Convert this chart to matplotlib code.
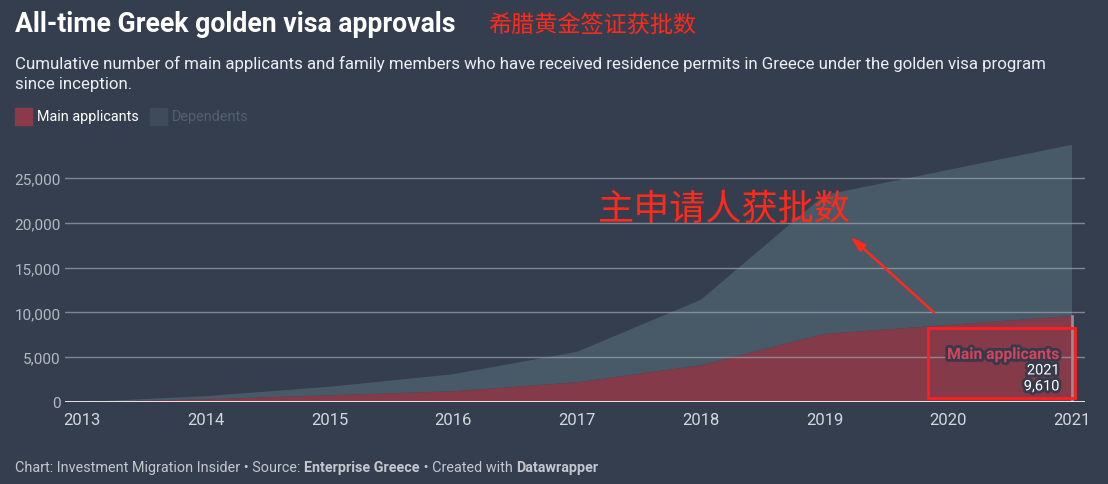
import matplotlib.pyplot as plt
import matplotlib.patheffects as pe
from matplotlib.patches import Rectangle
import numpy as np

plt.rcParams['font.family'] = ['Roboto', 'Noto Sans CJK SC', 'DejaVu Sans']

# data (cumulative)
years = [2013, 2014, 2015, 2016, 2017, 2018, 2019, 2020, 2021]
main_applicants = [0, 300, 750, 1200, 2200, 4100, 7600, 8600, 9610]
dependents = [0, 350, 950, 1900, 3400, 7300, 15500, 17300, 19100]
y_ticks = [0, 5000, 10000, 15000, 20000, 25000]

bg = '#343e4e'
red_area = '#843a48'
dep_area = '#485a68'

fig = plt.figure(figsize=(11.08, 4.85), dpi=100, facecolor=bg)
ax = fig.add_axes([65 / 1108, 82 / 485, 1020 / 1108, 268.8 / 485])
ax.set_facecolor(bg)

ax.stackplot(years, main_applicants, dependents, colors=[red_area, dep_area], linewidth=0, zorder=2)
ax.set_xlim(2012.863, 2021.105)
ax.set_ylim(0, 30000)

# grid
for t in y_ticks[1:]:
    ax.axhline(t, color='#9aa1aa', lw=1, alpha=0.75, zorder=3)
ax.axhline(0, color='white', lw=1.2, zorder=4)

# hover line at last point
ax.plot([2021, 2021], [0, main_applicants[-1]], color='#9a8a92', lw=2, zorder=3)

ax.set_yticks(y_ticks)
ax.set_yticklabels([f'{t:,}' for t in y_ticks])
ax.set_xticks(years)
ax.set_xticklabels([str(y) for y in years])
ax.tick_params(axis='y', length=0, pad=3, labelsize=11, labelcolor='#b4bac2')
ax.tick_params(axis='x', length=0, pad=7, labelsize=12, labelcolor='#d4d8de')
for s in ax.spines.values():
    s.set_visible(False)

# direct label
stroke = [pe.withStroke(linewidth=4, foreground='#363a4a')]
ax.text(2020.9, 5300, 'Main applicants', color='#d8435c', fontsize=11.3, fontweight='bold',
        ha='right', va='center', path_effects=stroke, zorder=6)
ax.text(2020.9, 3520, '2021', color='white', fontsize=10.5, ha='right', va='center',
        path_effects=stroke, zorder=6)
ax.text(2020.9, 1740, f'{main_applicants[-1]:,}', color='white', fontsize=10.5, ha='right',
        va='center', path_effects=stroke, zorder=6)

# red annotation
ax.add_patch(Rectangle((2019.835, 450), 1.19, 7830, fill=False, edgecolor='#ff1f1f',
                       lw=2, zorder=7, clip_on=False))
ax.annotate('', xy=(2019.19, 18700), xytext=(2019.9, 9800),
            arrowprops=dict(arrowstyle='-|>,head_length=0.9,head_width=0.25',
                            color='#ff2a1a', lw=1.8), zorder=7)
ax.text(2017.17, 21600, '主申请人获批数', color='#ff2a1a', fontsize=26,
        family=['Noto Sans CJK SC', 'DejaVu Sans'], ha='left', va='center', zorder=7)

# header
fig.text(15 / 1108, 1 - 25 / 485, 'All-time Greek golden visa approvals', color='white',
         fontsize=19.2, fontweight='bold', va='center', ha='left')
fig.text(488 / 1108, 1 - 25 / 485, '希腊黄金签证获批数', color='#ff2a1a', fontsize=16.7,
         family=['Noto Sans CJK SC', 'DejaVu Sans'], va='center', ha='left')
fig.text(15 / 1108, 1 - 64 / 485,
         'Cumulative number of main applicants and family members who have received residence permits in Greece under the golden visa program',
         color='#eceef1', fontsize=12.2, va='center', ha='left')
fig.text(15 / 1108, 1 - 84 / 485, 'since inception.', color='#eceef1', fontsize=12.2,
         va='center', ha='left')

# legend
fig.patches.append(Rectangle((15 / 1108, 1 - 126 / 485), 17 / 1108, 17 / 485,
                             transform=fig.transFigure, color='#8b3a4a'))
fig.text(37 / 1108, 1 - 117 / 485, 'Main applicants', color='white', fontsize=10.4,
         va='center', ha='left')
fig.patches.append(Rectangle((150 / 1108, 1 - 126 / 485), 17 / 1108, 17 / 485,
                             transform=fig.transFigure, color='#3f4a5a'))
fig.text(172 / 1108, 1 - 117 / 485, 'Dependents', color='#55606f', fontsize=10.4,
         va='center', ha='left')

# footer
parts = [('Chart: Investment Migration Insider • Source: ', 'normal'),
         ('Enterprise Greece', 'bold'),
         (' • Created with ', 'normal'),
         ('Datawrapper', 'bold')]
x = 15 / 1108
r = fig.canvas.get_renderer()
for txt, w in parts:
    t = fig.text(x, 1 - 468 / 485, txt, color='#c4c8ce', fontsize=10.4, fontweight=w,
                 va='center', ha='left')
    bb = t.get_window_extent(renderer=r)
    x += bb.width / fig.bbox.width

fig.savefig('out.png', dpi=100, facecolor=bg)
